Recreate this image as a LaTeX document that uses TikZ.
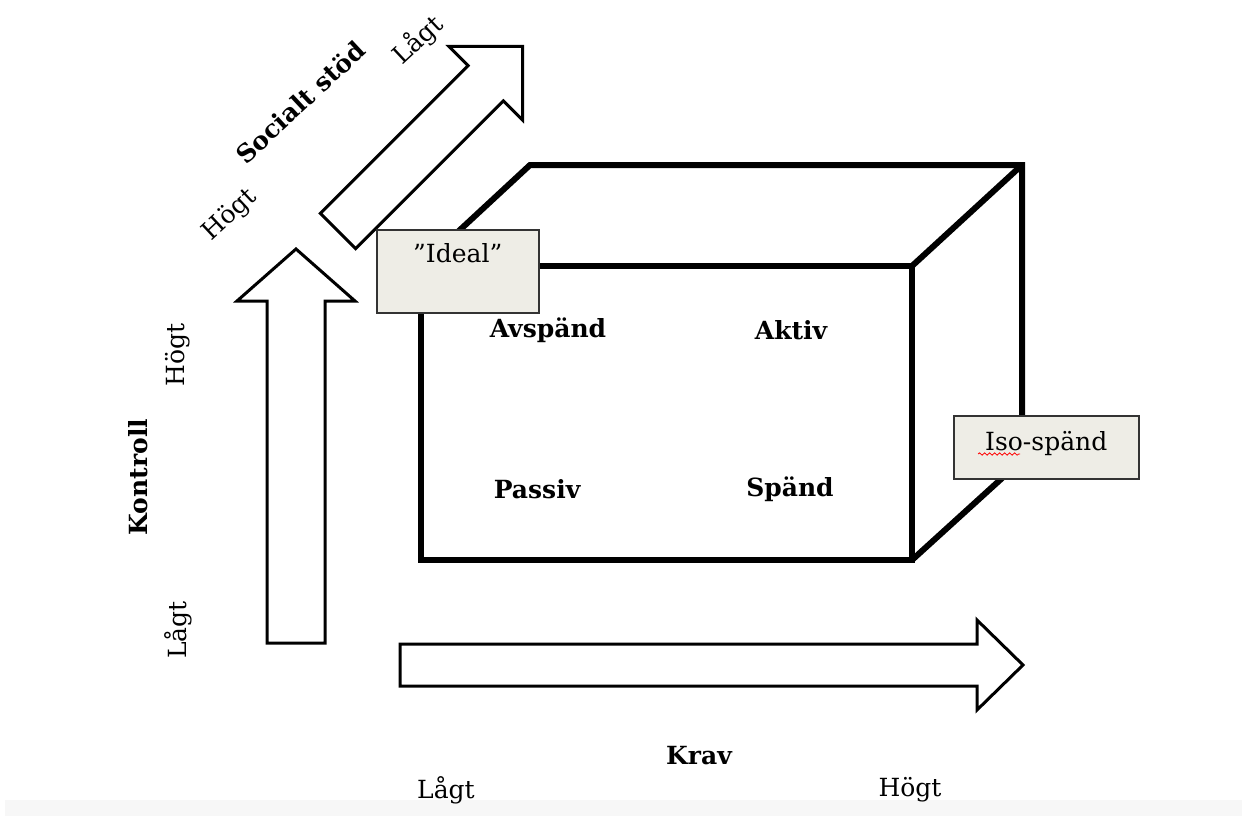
\documentclass[tikz,border=0pt]{standalone}
\usepackage{fontspec}
\setmainfont{DejaVu Serif}
\usepackage{tikz}
\usetikzlibrary{positioning,decorations.pathmorphing}

\definecolor{tagfill}{HTML}{EEEDE6}
\definecolor{tagline}{HTML}{333333}
\definecolor{bandgray}{HTML}{F7F7F7}

\tikzset{
    lbl/.style={font=\fontsize{25}{30}\selectfont, inner sep=0pt},
    boldlbl/.style={font=\fontsize{25}{30}\selectfont\bfseries, inner sep=0pt},
    tagbox/.style={draw=tagline, fill=tagfill, line width=1.5pt, inner sep=0pt,
        font=\fontsize{25}{30}\selectfont},
    arw/.style={draw=black, fill=white, line width=3pt, line join=miter},
    cube/.style={draw=black, line width=6pt, line join=miter}
}

\begin{document}
\begin{tikzpicture}[x=1pt,y=-1pt]
        \useasboundingbox (0,0) rectangle (1242,816);
        \fill[bandgray] (5,800) rectangle (1242,816);

        % the box
        \draw[cube] (421,266) rectangle (912,560);
        \draw[cube] (421,266) -- (530,165) -- (1022,165) -- (1022,460) -- (912,560);
        \draw[cube] (912,266) -- (1022,165);

        % arrows
        \draw[arw] (267,643) -- (267,301) -- (237,301) -- (296,249) -- (355,301) -- (325,301) -- (325,643) -- cycle;
        \draw[arw] (400,644) -- (977,644) -- (977,620) -- (1023,665) -- (977,710) -- (977,686) -- (400,686) -- cycle;
        \begin{scope}[shift={(338,231)},rotate=45]
            \draw[arw] (0,-25) -- (209,-25) -- (209,-52) -- (261,0) -- (209,52) -- (209,25) -- (0,25) -- cycle;
        \end{scope}

        % tags
        \node[tagbox, anchor=north west, minimum width=162pt, text height=33pt, text depth=50pt] (ideal) at (376,229) {”Ideal”};
        \node[tagbox, anchor=north west, minimum width=185pt, text height=35pt, text depth=28pt] (iso) at (953,415) {Iso-spänd};
        \draw[red, line width=0.8pt, decorate, decoration={snake, amplitude=1.2pt, segment length=5pt}] (978,454) -- (1020,454);

        % quadrants
        \node[boldlbl] (avspand) at (548,330) {Avspänd};
        \node[boldlbl] (aktiv) at (791,330) {Aktiv};
        \node[boldlbl] (passiv) at (537,489) {Passiv};
        \node[boldlbl] (spand) at (790,489) {Spänd};

        % axis labels
        \node[boldlbl] (krav) at (699,756) {Krav};
        \node[lbl] (kravlag) at (446,790) {Lågt};
        \node[lbl] (kravhog) at (910,790) {Högt};

        \node[boldlbl, rotate=90] (kontroll) at (138,477) {Kontroll};
        \node[lbl, rotate=90] (kontrhog) at (178,355) {Högt};
        \node[lbl, rotate=90] (kontrlag) at (178,630) {Lågt};

        \node[boldlbl, rotate=43] (stod) at (300,102) {Socialt stöd};
        \node[lbl, rotate=43] (stodhog) at (230,215) {Högt};
        \node[lbl, rotate=43] (stodlag) at (418,40) {Lågt};
    \end{tikzpicture}
\end{document}
